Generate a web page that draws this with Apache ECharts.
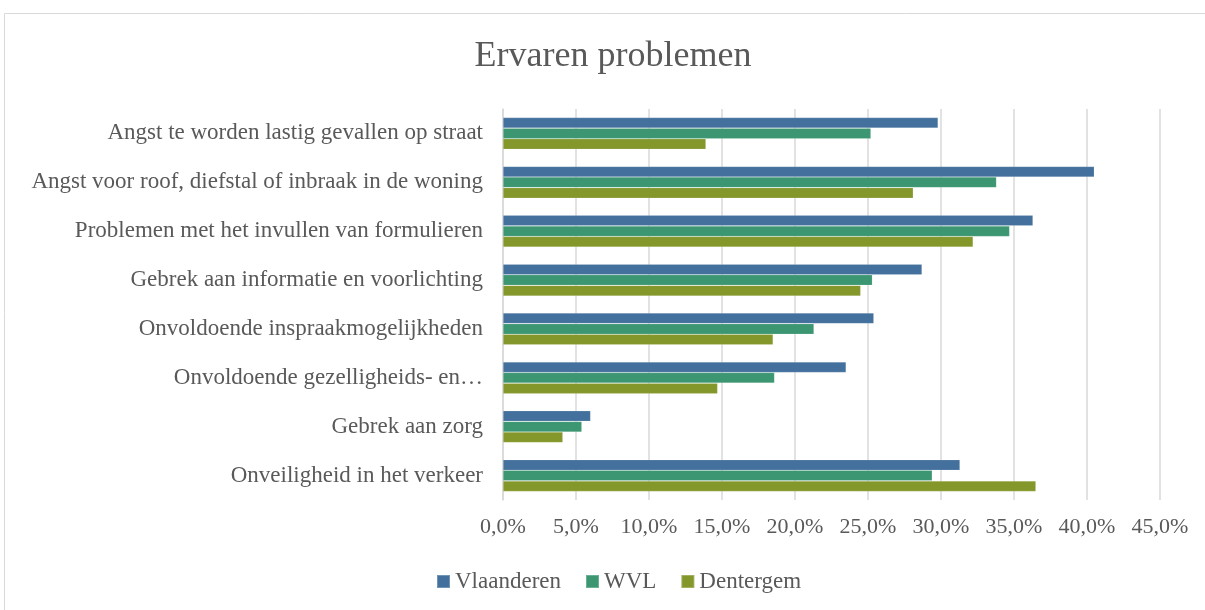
<!DOCTYPE html>
<html>
<head>
<meta charset="utf-8">
<script src="https://cdn.jsdelivr.net/npm/echarts@6/dist/echarts.min.js"></script>
<style>html,body{margin:0;padding:0;background:#fff;}#c{width:1205px;height:610px;}</style>
</head>
<body>
<div id="c"></div>
<script>
const categories = [
  'Angst te worden lastig gevallen op straat',
  'Angst voor roof, diefstal of inbraak in de woning',
  'Problemen met het invullen van formulieren',
  'Gebrek aan informatie en voorlichting',
  'Onvoldoende inspraakmogelijkheden',
  'Onvoldoende gezelligheids- en\u2026',
  'Gebrek aan zorg',
  'Onveiligheid in het verkeer'
];
const seriesNames = ['Vlaanderen', 'WVL', 'Dentergem'];
const vlaanderen = [29.8, 40.5, 36.3, 28.7, 25.4, 23.5, 6.0, 31.3];
const wvl = [25.2, 33.8, 34.7, 25.3, 21.3, 18.6, 5.4, 29.4];
const dentergem = [13.9, 28.1, 32.2, 24.5, 18.5, 14.7, 4.1, 36.5];
const xTicks = { min: 0, max: 45, interval: 5 };

const colors = ['#43709D', '#3B9671', '#83972A'];
const font = '"Liberation Serif", "DejaVu Serif", serif';
const chart = echarts.init(document.getElementById('c'), null, { renderer: 'canvas' });
const mk = (name, data, i) => ({
  name, type: 'bar', data,
  barGap: '0%', barCategoryGap: '35%',
  itemStyle: { color: colors[i], borderColor: 'rgba(255,255,255,0.25)', borderWidth: 0.6 },
  emphasis: { disabled: true }
});
chart.setOption({
  animation: false,
  backgroundColor: '#fff',
  graphic: [{ type: 'rect', shape: { x: 4.5, y: 13.5, width: 1250, height: 700 },
    style: { fill: 'none', stroke: '#d9d9d9', lineWidth: 1 }, silent: true, z: -10 }],
  title: {
    text: 'Ervaren problemen', left: 608, top: 34, textAlign: 'center',
    textStyle: { fontFamily: font, fontSize: 36, fontWeight: 'normal', color: '#595959' }
  },
  legend: {
    data: seriesNames, left: 431, top: 565, itemWidth: 13, itemHeight: 13, itemGap: 24,
    icon: 'rect',
    textStyle: { fontFamily: font, fontSize: 23, color: '#595959' }
  },
  grid: { left: 503, right: 45, top: 109, bottom: 110, containLabel: false },
  xAxis: {
    type: 'value', min: xTicks.min, max: xTicks.max, interval: xTicks.interval,
    axisLine: { show: false }, axisTick: { show: false },
    splitLine: { show: true, lineStyle: { color: '#d9d9d9', width: 1.5 } },
    axisLabel: { fontFamily: font, fontSize: 22, color: '#595959', margin: 16,
      formatter: v => v.toFixed(1).replace('.', ',') + '%' }
  },
  yAxis: {
    type: 'category', data: categories, inverse: true,
    axisLine: { show: true, lineStyle: { color: '#d9d9d9', width: 1.5 } },
    axisTick: { show: false },
    axisLabel: { fontFamily: font, fontSize: 23, color: '#595959', margin: 20 }
  },
  series: [mk(seriesNames[0], vlaanderen, 0), mk(seriesNames[1], wvl, 1), mk(seriesNames[2], dentergem, 2)]
});
</script>
</body>
</html>
